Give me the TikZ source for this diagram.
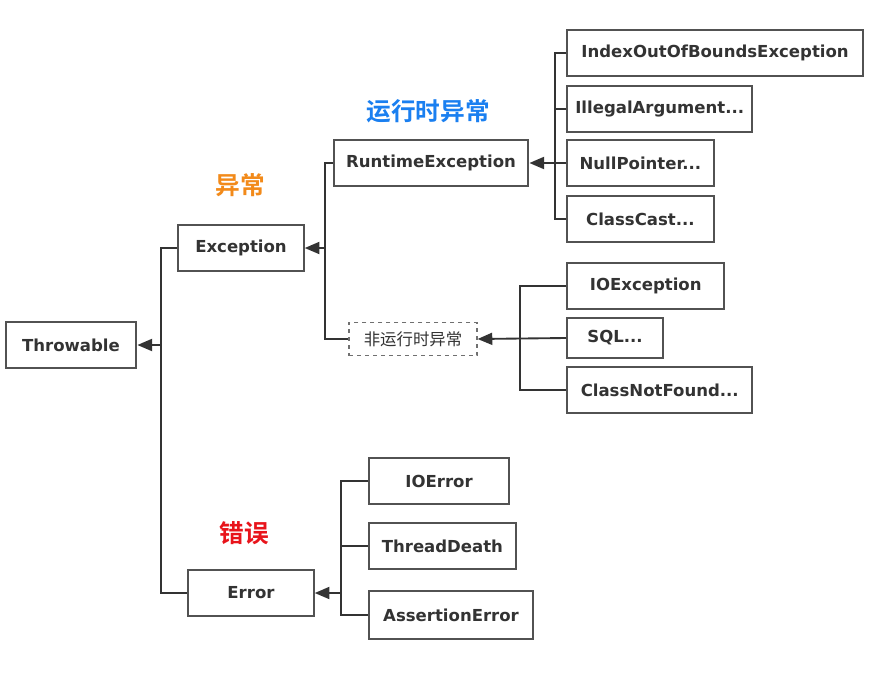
\documentclass[tikz,border=0pt]{standalone}
\usepackage{fontspec}
\setmainfont{DejaVu Sans}
\newfontfamily\cjk{Noto Sans CJK SC}
\newfontfamily\cjkbold{Noto Sans CJK SC Bold}
\usetikzlibrary{arrows.meta, positioning}
\definecolor{ink}{HTML}{333333}
\definecolor{cjkblue}{HTML}{1A7FF0}
\definecolor{cjkorange}{HTML}{F28A1A}
\definecolor{cjkred}{HTML}{E8141B}

\begin{document}
\begin{tikzpicture}[
    x=0.75pt, y=-0.75pt,
    every node/.style={font=\bfseries\fontsize{12.4}{14}\selectfont, text=ink},
    cls/.style={rectangle, draw=ink!85, line width=1.6pt, minimum height=34pt, inner sep=0pt, fill=white},
    grp/.style={rectangle, draw=ink!70, dashed, line width=0.9pt, minimum height=25pt, inner sep=0pt,
        font=\cjk\fontsize{12.3}{14}\selectfont},
    tag/.style={font=\cjkbold\fontsize{18.5}{20}\selectfont},
    bus/.style={draw=ink, line width=1.4pt},
    arr/.style={bus, -{Triangle[length=11pt, width=9pt]}}
]
\useasboundingbox (0,0) rectangle (873,674);
% root
\node[cls, minimum width=98pt] (tb) at (71,345) {Throwable};
\node[cls, minimum width=94pt] (exc) at (241,248) {Exception};
\node[cls, minimum width=94pt] (err) at (251,593) {Error};
% exception branch
\node[cls, minimum width=146pt] (rt) at (431,163) {RuntimeException};
\node[grp, minimum width=96pt] (chk) at (413,339) {非运行时异常};
% unchecked
\node[cls, minimum width=222pt, anchor=west] (idx) at (566,53) {IndexOutOfBoundsException};
\node[cls, minimum width=139pt, anchor=west] (ill) at (566,109) {IllegalArgument...};
\node[cls, minimum width=110pt, anchor=west] (np) at (566,163) {NullPointer...};
\node[cls, minimum width=110pt, anchor=west] (cc) at (566,219) {ClassCast...};
% checked
\node[cls, minimum width=118pt, anchor=west] (ioe) at (566,286) {IOException};
\node[cls, minimum width=72pt, minimum height=30pt, anchor=west] (sql) at (566,338) {SQL...};
\node[cls, minimum width=139pt, anchor=west] (cnf) at (566,390) {ClassNotFound...};
% errors
\node[cls, minimum width=105pt, anchor=west] (ioerr) at (368,481) {IOError};
\node[cls, minimum width=110pt, anchor=west] (td) at (368,546) {ThreadDeath};
\node[cls, minimum width=123pt, minimum height=36pt, anchor=west] (ae) at (368,615) {AssertionError};
% tags
\node[tag, text=cjkblue] (tagrt) at (428,111) {运行时异常};
\node[tag, text=cjkorange] (tagexc) at (240,185) {异常};
\node[tag, text=cjkred] (tagerr) at (244,533) {错误};
% buses
\coordinate (tbus) at (161,345);
\coordinate (ebus) at (325,248);
\coordinate (rbus) at (555,163);
\coordinate (cbus) at (520,338);
\coordinate (erbus) at (341,593);
\draw[bus] (exc.west) -| (tbus) |- (err.west);
\draw[arr] (tbus) -- (tb.east);
\draw[bus] (rt.west) -| (ebus) |- (chk.west);
\draw[arr] (ebus) -- (exc.east);
\draw[bus] (idx.west) -| (rbus) |- (cc.west);
\draw[bus] (ill.west) -- (ill.west -| rbus);
\draw[bus] (np.west) -- (rbus);
\draw[arr] (rbus) -- (rt.east);
\draw[bus] (ioe.west) -| (cbus) |- (cnf.west);
\draw[arr] (sql.west) -- (chk.east);
\draw[bus] (ioerr.west) -| (erbus) |- (ae.west);
\draw[bus] (td.west) -- (td.west -| erbus);
\draw[arr] (erbus) -- (err.east);
\end{tikzpicture}
\end{document}
